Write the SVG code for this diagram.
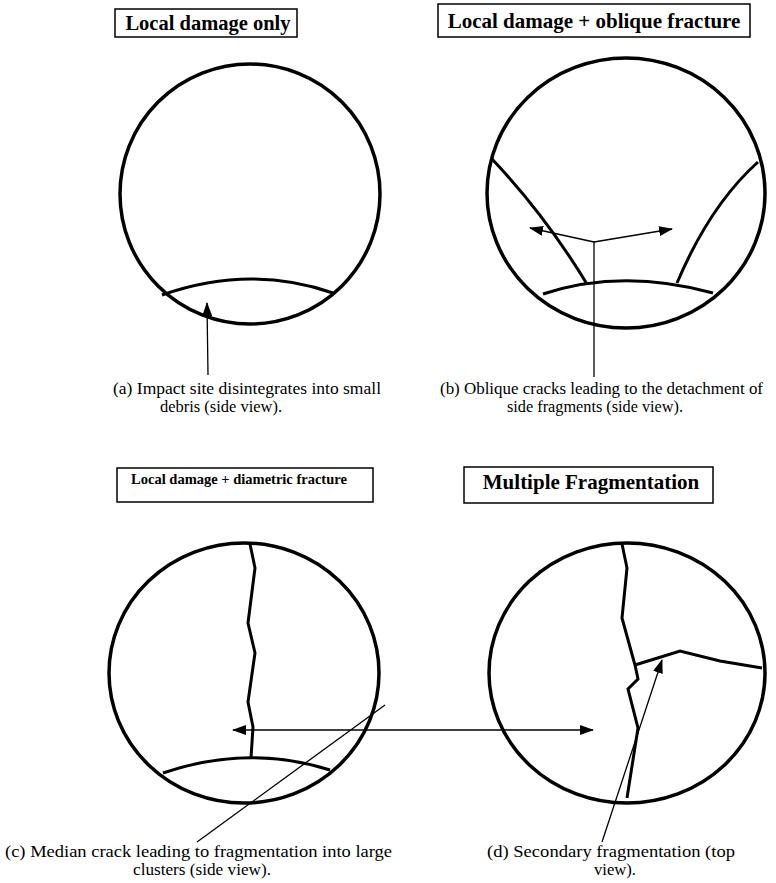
<svg xmlns="http://www.w3.org/2000/svg" width="776" height="883" viewBox="0 0 776 883">
<style>
.box{fill:#fff;stroke:#000;stroke-width:1.5}
.title{font-family:"Liberation Serif","Times New Roman",serif;font-weight:bold;fill:#000}
.cap{font-family:"Liberation Serif","Times New Roman",serif;fill:#000;font-size:16px}
.outline{fill:none;stroke:#000;stroke-width:3.5}
.crack{fill:none;stroke:#000;stroke-width:3;stroke-linejoin:miter}
.lead{fill:none;stroke:#000;stroke-width:1.3}
</style>
<defs>
<marker id="ah" viewBox="0 0 14 10" refX="13" refY="5" markerWidth="14" markerHeight="10" markerUnits="userSpaceOnUse" orient="auto">
<path d="M0,0 L14,5 L0,10 Z" fill="#000"/>
</marker>
</defs>

<g id="panel-a">
<rect class="box" x="115" y="9" width="182" height="28"/>
<text class="title" x="208" y="30" font-size="20.5" text-anchor="middle">Local damage only</text>
<circle class="outline" cx="250" cy="194" r="130"/>
<path class="crack" d="M162,295 Q250,264 333,293"/>
<text class="cap" x="113" y="394" textLength="268" lengthAdjust="spacingAndGlyphs">(a)  Impact site disintegrates into small</text>
<text class="cap" x="160" y="412" textLength="122" lengthAdjust="spacingAndGlyphs">debris (side view).</text>
</g>

<g id="panel-b">
<rect class="box" x="438" y="4" width="312" height="33"/>
<text class="title" x="594" y="28" font-size="21" text-anchor="middle">Local damage + oblique fracture</text>
<ellipse class="outline" cx="626" cy="193" rx="139" ry="135"/>
<path class="crack" d="M543,294 Q622,268 713,293"/>
<path class="crack" d="M492,159 Q545,215 587,284"/>
<path class="crack" d="M758,162 Q710,205 677,283"/>
<text class="cap" x="440" y="394" textLength="323" lengthAdjust="spacingAndGlyphs">(b)  Oblique cracks leading to the detachment of</text>
<text class="cap" x="507" y="412" textLength="176" lengthAdjust="spacingAndGlyphs">side fragments (side view).</text>
</g>

<g id="panel-c">
<rect class="box" x="117" y="468" width="256" height="34"/>
<text class="title" x="239" y="484" font-size="14.5" text-anchor="middle">Local damage + diametric fracture</text>
<ellipse class="outline" cx="244" cy="673" rx="135" ry="130"/>
<path class="crack" d="M250,544 L255,568 L248,623 L255,653 L248,702 L253,727 L251,758"/>
<path class="crack" d="M163,773 Q248,744 330,770"/>
<text class="cap" x="5" y="857" textLength="387" lengthAdjust="spacingAndGlyphs">(c)  Median crack leading to fragmentation into large</text>
<text class="cap" x="133" y="875" textLength="138" lengthAdjust="spacingAndGlyphs">clusters (side view).</text>
</g>

<g id="panel-d">
<rect class="box" x="464" y="467" width="249" height="36"/>
<text class="title" x="591" y="489" font-size="21" text-anchor="middle">Multiple Fragmentation</text>
<ellipse class="outline" cx="627" cy="673" rx="138" ry="130"/>
<path class="crack" d="M622,544 L627,568 L622,618 L635,665 L638,679 L628,689 L638,728 L627,798"/>
<path class="crack" d="M635,665 L680,651 L720,661 L762,668"/>
<text class="cap" x="487" y="857" textLength="248" lengthAdjust="spacingAndGlyphs">(d)  Secondary fragmentation (top</text>
<text class="cap" x="594" y="875" textLength="42" lengthAdjust="spacingAndGlyphs">view).</text>
</g>

<g id="connectors">
<line class="lead" x1="208" y1="375" x2="207" y2="303" marker-end="url(#ah)"/>
<line class="lead" x1="594" y1="377" x2="594" y2="242"/>
<line class="lead" x1="594" y1="242" x2="530" y2="228" marker-end="url(#ah)"/>
<line class="lead" x1="594" y1="242" x2="672" y2="229" marker-end="url(#ah)"/>
<line class="lead" x1="413" y1="730" x2="233" y2="730" marker-end="url(#ah)"/>
<line class="lead" x1="413" y1="730" x2="593" y2="730" marker-end="url(#ah)"/>
<line class="lead" x1="197" y1="842" x2="385" y2="705"/>
<line class="lead" x1="602" y1="842" x2="662" y2="660" marker-end="url(#ah)"/>
</g>
</svg>
